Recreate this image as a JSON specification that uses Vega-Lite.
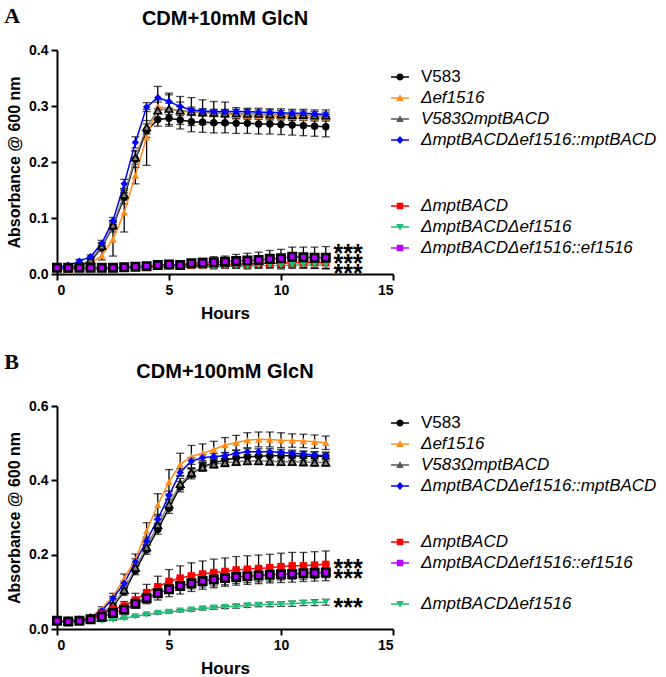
{
"$schema": "https://vega.github.io/schema/vega-lite/v6.json",
"padding": {"left": 4, "top": 4, "right": 0, "bottom": 0},
"spacing": 29,
"config": {
 "font": "Liberation Sans",
 "view": {"stroke": null},
 "axis": {"domainColor": "black", "domainWidth": 2, "tickColor": "black", "tickWidth": 2, "tickSize": 6, "labelColor": "black", "labelFontSize": 14, "labelFontWeight": "bold", "titleColor": "black", "titleFontWeight": "bold", "titleFontSize": 16, "grid": false, "labelFont": "Liberation Sans", "titleFont": "Liberation Sans"},
 "title": {"fontSize": 20, "fontWeight": "bold", "color": "black", "font": "Liberation Sans"},
 "legend": {"title": null, "orient": "none", "labelFont": "Liberation Sans", "labelFontSize": 17, "labelColor": "black", "labelLimit": 400, "labelOffset": 12, "rowPadding": 4, "padding": 0, "symbolSize": 324, "symbolStrokeWidth": 0, "symbolOpacity": 1, "labelFontStyle": {"expr": "datum.label == 'V583' ? 'normal' : 'italic'"}}
},
"datasets": {
"a": [
{"s":"V583","t":0,"y":0.012,"e":0.002},{"s":"V583","t":0.5,"y":0.013,"e":0.002},{"s":"V583","t":1,"y":0.015,"e":0.002},{"s":"V583","t":1.5,"y":0.022,"e":0.004},{"s":"V583","t":2,"y":0.048,"e":0.006},{"s":"V583","t":2.5,"y":0.085,"e":0.01},{"s":"V583","t":3,"y":0.137,"e":0.012},{"s":"V583","t":3.5,"y":0.205,"e":0.015},{"s":"V583","t":4,"y":0.256,"e":0.012},{"s":"V583","t":4.5,"y":0.276,"e":0.012},{"s":"V583","t":5,"y":0.278,"e":0.014},{"s":"V583","t":5.5,"y":0.275,"e":0.016},{"s":"V583","t":6,"y":0.272,"e":0.018},{"s":"V583","t":6.5,"y":0.271,"e":0.018},{"s":"V583","t":7,"y":0.27,"e":0.018},{"s":"V583","t":7.5,"y":0.27,"e":0.018},{"s":"V583","t":8,"y":0.269,"e":0.018},{"s":"V583","t":8.5,"y":0.269,"e":0.018},{"s":"V583","t":9,"y":0.268,"e":0.018},{"s":"V583","t":9.5,"y":0.268,"e":0.018},{"s":"V583","t":10,"y":0.267,"e":0.018},{"s":"V583","t":10.5,"y":0.266,"e":0.018},{"s":"V583","t":11,"y":0.265,"e":0.018},{"s":"V583","t":11.5,"y":0.264,"e":0.018},{"s":"V583","t":12,"y":0.263,"e":0.018},
{"s":"Δef1516","t":0,"y":0.01,"e":0.002},{"s":"Δef1516","t":0.5,"y":0.006,"e":0.003},{"s":"Δef1516","t":1,"y":0.012,"e":0.003},{"s":"Δef1516","t":1.5,"y":0.018,"e":0.004},{"s":"Δef1516","t":2,"y":0.033,"e":0.008},{"s":"Δef1516","t":2.5,"y":0.062,"e":0.03},{"s":"Δef1516","t":3,"y":0.11,"e":0.035},{"s":"Δef1516","t":3.5,"y":0.176,"e":0.015},{"s":"Δef1516","t":4,"y":0.244,"e":0.05},{"s":"Δef1516","t":4.5,"y":0.299,"e":0.012},{"s":"Δef1516","t":5,"y":0.295,"e":0.01},{"s":"Δef1516","t":5.5,"y":0.291,"e":0.008},{"s":"Δef1516","t":6,"y":0.289,"e":0.006},{"s":"Δef1516","t":6.5,"y":0.288,"e":0.006},{"s":"Δef1516","t":7,"y":0.287,"e":0.006},{"s":"Δef1516","t":7.5,"y":0.286,"e":0.006},{"s":"Δef1516","t":8,"y":0.284,"e":0.006},{"s":"Δef1516","t":8.5,"y":0.283,"e":0.005},{"s":"Δef1516","t":9,"y":0.282,"e":0.005},{"s":"Δef1516","t":9.5,"y":0.282,"e":0.005},{"s":"Δef1516","t":10,"y":0.281,"e":0.005},{"s":"Δef1516","t":10.5,"y":0.281,"e":0.005},{"s":"Δef1516","t":11,"y":0.28,"e":0.005},{"s":"Δef1516","t":11.5,"y":0.28,"e":0.005},{"s":"Δef1516","t":12,"y":0.28,"e":0.005},
{"s":"V583ΩmptBACD","t":0,"y":0.012,"e":0.002},{"s":"V583ΩmptBACD","t":0.5,"y":0.014,"e":0.002},{"s":"V583ΩmptBACD","t":1,"y":0.016,"e":0.003},{"s":"V583ΩmptBACD","t":1.5,"y":0.025,"e":0.004},{"s":"V583ΩmptBACD","t":2,"y":0.05,"e":0.006},{"s":"V583ΩmptBACD","t":2.5,"y":0.087,"e":0.008},{"s":"V583ΩmptBACD","t":3,"y":0.142,"e":0.01},{"s":"V583ΩmptBACD","t":3.5,"y":0.208,"e":0.012},{"s":"V583ΩmptBACD","t":4,"y":0.262,"e":0.012},{"s":"V583ΩmptBACD","t":4.5,"y":0.292,"e":0.015},{"s":"V583ΩmptBACD","t":5,"y":0.295,"e":0.028},{"s":"V583ΩmptBACD","t":5.5,"y":0.292,"e":0.025},{"s":"V583ΩmptBACD","t":6,"y":0.29,"e":0.025},{"s":"V583ΩmptBACD","t":6.5,"y":0.289,"e":0.022},{"s":"V583ΩmptBACD","t":7,"y":0.288,"e":0.02},{"s":"V583ΩmptBACD","t":7.5,"y":0.287,"e":0.02},{"s":"V583ΩmptBACD","t":8,"y":0.287,"e":0.01},{"s":"V583ΩmptBACD","t":8.5,"y":0.286,"e":0.01},{"s":"V583ΩmptBACD","t":9,"y":0.286,"e":0.01},{"s":"V583ΩmptBACD","t":9.5,"y":0.285,"e":0.01},{"s":"V583ΩmptBACD","t":10,"y":0.285,"e":0.01},{"s":"V583ΩmptBACD","t":10.5,"y":0.284,"e":0.01},{"s":"V583ΩmptBACD","t":11,"y":0.284,"e":0.01},{"s":"V583ΩmptBACD","t":11.5,"y":0.283,"e":0.01},{"s":"V583ΩmptBACD","t":12,"y":0.283,"e":0.01},
{"s":"ΔmptBACDΔef1516::mptBACD","t":0,"y":0.013,"e":0.002},{"s":"ΔmptBACDΔef1516::mptBACD","t":0.5,"y":0.015,"e":0.002},{"s":"ΔmptBACDΔef1516::mptBACD","t":1,"y":0.023,"e":0.003},{"s":"ΔmptBACDΔef1516::mptBACD","t":1.5,"y":0.031,"e":0.003},{"s":"ΔmptBACDΔef1516::mptBACD","t":2,"y":0.055,"e":0.005},{"s":"ΔmptBACDΔef1516::mptBACD","t":2.5,"y":0.095,"e":0.006},{"s":"ΔmptBACDΔef1516::mptBACD","t":3,"y":0.161,"e":0.008},{"s":"ΔmptBACDΔef1516::mptBACD","t":3.5,"y":0.235,"e":0.01},{"s":"ΔmptBACDΔef1516::mptBACD","t":4,"y":0.298,"e":0.008},{"s":"ΔmptBACDΔef1516::mptBACD","t":4.5,"y":0.315,"e":0.02},{"s":"ΔmptBACDΔef1516::mptBACD","t":5,"y":0.308,"e":0.012},{"s":"ΔmptBACDΔef1516::mptBACD","t":5.5,"y":0.299,"e":0.008},{"s":"ΔmptBACDΔef1516::mptBACD","t":6,"y":0.293,"e":0.005},{"s":"ΔmptBACDΔef1516::mptBACD","t":6.5,"y":0.291,"e":0.004},{"s":"ΔmptBACDΔef1516::mptBACD","t":7,"y":0.29,"e":0.004},{"s":"ΔmptBACDΔef1516::mptBACD","t":7.5,"y":0.29,"e":0.004},{"s":"ΔmptBACDΔef1516::mptBACD","t":8,"y":0.29,"e":0.004},{"s":"ΔmptBACDΔef1516::mptBACD","t":8.5,"y":0.29,"e":0.004},{"s":"ΔmptBACDΔef1516::mptBACD","t":9,"y":0.289,"e":0.004},{"s":"ΔmptBACDΔef1516::mptBACD","t":9.5,"y":0.289,"e":0.004},{"s":"ΔmptBACDΔef1516::mptBACD","t":10,"y":0.288,"e":0.004},{"s":"ΔmptBACDΔef1516::mptBACD","t":10.5,"y":0.287,"e":0.004},{"s":"ΔmptBACDΔef1516::mptBACD","t":11,"y":0.287,"e":0.004},{"s":"ΔmptBACDΔef1516::mptBACD","t":11.5,"y":0.286,"e":0.004},{"s":"ΔmptBACDΔef1516::mptBACD","t":12,"y":0.285,"e":0.004},
{"s":"ΔmptBACD","t":0,"y":0.01,"e":0.001},{"s":"ΔmptBACD","t":0.5,"y":0.01,"e":0.001},{"s":"ΔmptBACD","t":1,"y":0.01,"e":0.001},{"s":"ΔmptBACD","t":1.5,"y":0.01,"e":0.001},{"s":"ΔmptBACD","t":2,"y":0.01,"e":0.001},{"s":"ΔmptBACD","t":2.5,"y":0.01,"e":0.001},{"s":"ΔmptBACD","t":3,"y":0.011,"e":0.002},{"s":"ΔmptBACD","t":3.5,"y":0.012,"e":0.002},{"s":"ΔmptBACD","t":4,"y":0.013,"e":0.002},{"s":"ΔmptBACD","t":4.5,"y":0.014,"e":0.003},{"s":"ΔmptBACD","t":5,"y":0.015,"e":0.003},{"s":"ΔmptBACD","t":5.5,"y":0.015,"e":0.003},{"s":"ΔmptBACD","t":6,"y":0.016,"e":0.004},{"s":"ΔmptBACD","t":6.5,"y":0.016,"e":0.004},{"s":"ΔmptBACD","t":7,"y":0.017,"e":0.005},{"s":"ΔmptBACD","t":7.5,"y":0.017,"e":0.005},{"s":"ΔmptBACD","t":8,"y":0.018,"e":0.006},{"s":"ΔmptBACD","t":8.5,"y":0.018,"e":0.006},{"s":"ΔmptBACD","t":9,"y":0.019,"e":0.007},{"s":"ΔmptBACD","t":9.5,"y":0.019,"e":0.007},{"s":"ΔmptBACD","t":10,"y":0.019,"e":0.008},{"s":"ΔmptBACD","t":10.5,"y":0.02,"e":0.008},{"s":"ΔmptBACD","t":11,"y":0.02,"e":0.009},{"s":"ΔmptBACD","t":11.5,"y":0.02,"e":0.009},{"s":"ΔmptBACD","t":12,"y":0.02,"e":0.01},
{"s":"ΔmptBACDΔef1516","t":0,"y":0.01,"e":0.001},{"s":"ΔmptBACDΔef1516","t":0.5,"y":0.009,"e":0.001},{"s":"ΔmptBACDΔef1516","t":1,"y":0.009,"e":0.001},{"s":"ΔmptBACDΔef1516","t":1.5,"y":0.009,"e":0.001},{"s":"ΔmptBACDΔef1516","t":2,"y":0.009,"e":0.001},{"s":"ΔmptBACDΔef1516","t":2.5,"y":0.01,"e":0.001},{"s":"ΔmptBACDΔef1516","t":3,"y":0.01,"e":0.001},{"s":"ΔmptBACDΔef1516","t":3.5,"y":0.011,"e":0.002},{"s":"ΔmptBACDΔef1516","t":4,"y":0.011,"e":0.002},{"s":"ΔmptBACDΔef1516","t":4.5,"y":0.012,"e":0.002},{"s":"ΔmptBACDΔef1516","t":5,"y":0.012,"e":0.002},{"s":"ΔmptBACDΔef1516","t":5.5,"y":0.012,"e":0.003},{"s":"ΔmptBACDΔef1516","t":6,"y":0.013,"e":0.003},{"s":"ΔmptBACDΔef1516","t":6.5,"y":0.013,"e":0.003},{"s":"ΔmptBACDΔef1516","t":7,"y":0.013,"e":0.004},{"s":"ΔmptBACDΔef1516","t":7.5,"y":0.014,"e":0.004},{"s":"ΔmptBACDΔef1516","t":8,"y":0.014,"e":0.004},{"s":"ΔmptBACDΔef1516","t":8.5,"y":0.014,"e":0.005},{"s":"ΔmptBACDΔef1516","t":9,"y":0.015,"e":0.005},{"s":"ΔmptBACDΔef1516","t":9.5,"y":0.015,"e":0.005},{"s":"ΔmptBACDΔef1516","t":10,"y":0.015,"e":0.006},{"s":"ΔmptBACDΔef1516","t":10.5,"y":0.016,"e":0.006},{"s":"ΔmptBACDΔef1516","t":11,"y":0.016,"e":0.006},{"s":"ΔmptBACDΔef1516","t":11.5,"y":0.016,"e":0.006},{"s":"ΔmptBACDΔef1516","t":12,"y":0.016,"e":0.006},
{"s":"ΔmptBACDΔef1516::ef1516","t":0,"y":0.011,"e":0.001},{"s":"ΔmptBACDΔef1516::ef1516","t":0.5,"y":0.011,"e":0.001},{"s":"ΔmptBACDΔef1516::ef1516","t":1,"y":0.011,"e":0.001},{"s":"ΔmptBACDΔef1516::ef1516","t":1.5,"y":0.011,"e":0.001},{"s":"ΔmptBACDΔef1516::ef1516","t":2,"y":0.011,"e":0.001},{"s":"ΔmptBACDΔef1516::ef1516","t":2.5,"y":0.011,"e":0.002},{"s":"ΔmptBACDΔef1516::ef1516","t":3,"y":0.012,"e":0.002},{"s":"ΔmptBACDΔef1516::ef1516","t":3.5,"y":0.013,"e":0.002},{"s":"ΔmptBACDΔef1516::ef1516","t":4,"y":0.014,"e":0.003},{"s":"ΔmptBACDΔef1516::ef1516","t":4.5,"y":0.016,"e":0.003},{"s":"ΔmptBACDΔef1516::ef1516","t":5,"y":0.017,"e":0.004},{"s":"ΔmptBACDΔef1516::ef1516","t":5.5,"y":0.016,"e":0.004},{"s":"ΔmptBACDΔef1516::ef1516","t":6,"y":0.019,"e":0.006},{"s":"ΔmptBACDΔef1516::ef1516","t":6.5,"y":0.02,"e":0.008},{"s":"ΔmptBACDΔef1516::ef1516","t":7,"y":0.021,"e":0.01},{"s":"ΔmptBACDΔef1516::ef1516","t":7.5,"y":0.022,"e":0.01},{"s":"ΔmptBACDΔef1516::ef1516","t":8,"y":0.023,"e":0.012},{"s":"ΔmptBACDΔef1516::ef1516","t":8.5,"y":0.024,"e":0.013},{"s":"ΔmptBACDΔef1516::ef1516","t":9,"y":0.025,"e":0.014},{"s":"ΔmptBACDΔef1516::ef1516","t":9.5,"y":0.027,"e":0.015},{"s":"ΔmptBACDΔef1516::ef1516","t":10,"y":0.028,"e":0.016},{"s":"ΔmptBACDΔef1516::ef1516","t":10.5,"y":0.031,"e":0.017},{"s":"ΔmptBACDΔef1516::ef1516","t":11,"y":0.03,"e":0.018},{"s":"ΔmptBACDΔef1516::ef1516","t":11.5,"y":0.029,"e":0.019},{"s":"ΔmptBACDΔef1516::ef1516","t":12,"y":0.029,"e":0.02}
],
"b": [
{"s":"V583","t":0,"y":0.022,"e":0.003},{"s":"V583","t":0.5,"y":0.022,"e":0.003},{"s":"V583","t":1,"y":0.024,"e":0.003},{"s":"V583","t":1.5,"y":0.03,"e":0.004},{"s":"V583","t":2,"y":0.04,"e":0.005},{"s":"V583","t":2.5,"y":0.062,"e":0.007},{"s":"V583","t":3,"y":0.1,"e":0.009},{"s":"V583","t":3.5,"y":0.157,"e":0.011},{"s":"V583","t":4,"y":0.213,"e":0.012},{"s":"V583","t":4.5,"y":0.268,"e":0.013},{"s":"V583","t":5,"y":0.325,"e":0.014},{"s":"V583","t":5.5,"y":0.383,"e":0.014},{"s":"V583","t":6,"y":0.417,"e":0.013},{"s":"V583","t":6.5,"y":0.437,"e":0.012},{"s":"V583","t":7,"y":0.447,"e":0.012},{"s":"V583","t":7.5,"y":0.455,"e":0.012},{"s":"V583","t":8,"y":0.46,"e":0.012},{"s":"V583","t":8.5,"y":0.463,"e":0.012},{"s":"V583","t":9,"y":0.465,"e":0.012},{"s":"V583","t":9.5,"y":0.466,"e":0.012},{"s":"V583","t":10,"y":0.466,"e":0.012},{"s":"V583","t":10.5,"y":0.466,"e":0.012},{"s":"V583","t":11,"y":0.465,"e":0.012},{"s":"V583","t":11.5,"y":0.465,"e":0.012},{"s":"V583","t":12,"y":0.464,"e":0.012},
{"s":"Δef1516","t":0,"y":0.022,"e":0.002},{"s":"Δef1516","t":0.5,"y":0.022,"e":0.002},{"s":"Δef1516","t":1,"y":0.025,"e":0.003},{"s":"Δef1516","t":1.5,"y":0.033,"e":0.003},{"s":"Δef1516","t":2,"y":0.055,"e":0.005},{"s":"Δef1516","t":2.5,"y":0.088,"e":0.008},{"s":"Δef1516","t":3,"y":0.136,"e":0.012},{"s":"Δef1516","t":3.5,"y":0.187,"e":0.015},{"s":"Δef1516","t":4,"y":0.264,"e":0.022},{"s":"Δef1516","t":4.5,"y":0.334,"e":0.03},{"s":"Δef1516","t":5,"y":0.396,"e":0.033},{"s":"Δef1516","t":5.5,"y":0.443,"e":0.03},{"s":"Δef1516","t":6,"y":0.464,"e":0.03},{"s":"Δef1516","t":6.5,"y":0.473,"e":0.025},{"s":"Δef1516","t":7,"y":0.483,"e":0.022},{"s":"Δef1516","t":7.5,"y":0.495,"e":0.02},{"s":"Δef1516","t":8,"y":0.501,"e":0.02},{"s":"Δef1516","t":8.5,"y":0.508,"e":0.02},{"s":"Δef1516","t":9,"y":0.51,"e":0.02},{"s":"Δef1516","t":9.5,"y":0.51,"e":0.02},{"s":"Δef1516","t":10,"y":0.508,"e":0.02},{"s":"Δef1516","t":10.5,"y":0.507,"e":0.018},{"s":"Δef1516","t":11,"y":0.506,"e":0.018},{"s":"Δef1516","t":11.5,"y":0.504,"e":0.018},{"s":"Δef1516","t":12,"y":0.501,"e":0.018},
{"s":"V583ΩmptBACD","t":0,"y":0.022,"e":0.002},{"s":"V583ΩmptBACD","t":0.5,"y":0.022,"e":0.002},{"s":"V583ΩmptBACD","t":1,"y":0.024,"e":0.003},{"s":"V583ΩmptBACD","t":1.5,"y":0.03,"e":0.003},{"s":"V583ΩmptBACD","t":2,"y":0.042,"e":0.004},{"s":"V583ΩmptBACD","t":2.5,"y":0.065,"e":0.006},{"s":"V583ΩmptBACD","t":3,"y":0.105,"e":0.008},{"s":"V583ΩmptBACD","t":3.5,"y":0.165,"e":0.01},{"s":"V583ΩmptBACD","t":4,"y":0.22,"e":0.012},{"s":"V583ΩmptBACD","t":4.5,"y":0.28,"e":0.014},{"s":"V583ΩmptBACD","t":5,"y":0.335,"e":0.015},{"s":"V583ΩmptBACD","t":5.5,"y":0.39,"e":0.015},{"s":"V583ΩmptBACD","t":6,"y":0.42,"e":0.012},{"s":"V583ΩmptBACD","t":6.5,"y":0.435,"e":0.01},{"s":"V583ΩmptBACD","t":7,"y":0.443,"e":0.01},{"s":"V583ΩmptBACD","t":7.5,"y":0.447,"e":0.01},{"s":"V583ΩmptBACD","t":8,"y":0.45,"e":0.01},{"s":"V583ΩmptBACD","t":8.5,"y":0.452,"e":0.01},{"s":"V583ΩmptBACD","t":9,"y":0.452,"e":0.01},{"s":"V583ΩmptBACD","t":9.5,"y":0.451,"e":0.01},{"s":"V583ΩmptBACD","t":10,"y":0.45,"e":0.01},{"s":"V583ΩmptBACD","t":10.5,"y":0.45,"e":0.01},{"s":"V583ΩmptBACD","t":11,"y":0.449,"e":0.01},{"s":"V583ΩmptBACD","t":11.5,"y":0.448,"e":0.01},{"s":"V583ΩmptBACD","t":12,"y":0.448,"e":0.01},
{"s":"ΔmptBACDΔef1516::mptBACD","t":0,"y":0.02,"e":0.002},{"s":"ΔmptBACDΔef1516::mptBACD","t":0.5,"y":0.018,"e":0.002},{"s":"ΔmptBACDΔef1516::mptBACD","t":1,"y":0.02,"e":0.002},{"s":"ΔmptBACDΔef1516::mptBACD","t":1.5,"y":0.03,"e":0.003},{"s":"ΔmptBACDΔef1516::mptBACD","t":2,"y":0.049,"e":0.004},{"s":"ΔmptBACDΔef1516::mptBACD","t":2.5,"y":0.083,"e":0.005},{"s":"ΔmptBACDΔef1516::mptBACD","t":3,"y":0.123,"e":0.006},{"s":"ΔmptBACDΔef1516::mptBACD","t":3.5,"y":0.181,"e":0.008},{"s":"ΔmptBACDΔef1516::mptBACD","t":4,"y":0.237,"e":0.01},{"s":"ΔmptBACDΔef1516::mptBACD","t":4.5,"y":0.296,"e":0.012},{"s":"ΔmptBACDΔef1516::mptBACD","t":5,"y":0.359,"e":0.012},{"s":"ΔmptBACDΔef1516::mptBACD","t":5.5,"y":0.421,"e":0.01},{"s":"ΔmptBACDΔef1516::mptBACD","t":6,"y":0.452,"e":0.009},{"s":"ΔmptBACDΔef1516::mptBACD","t":6.5,"y":0.461,"e":0.008},{"s":"ΔmptBACDΔef1516::mptBACD","t":7,"y":0.464,"e":0.008},{"s":"ΔmptBACDΔef1516::mptBACD","t":7.5,"y":0.466,"e":0.008},{"s":"ΔmptBACDΔef1516::mptBACD","t":8,"y":0.473,"e":0.008},{"s":"ΔmptBACDΔef1516::mptBACD","t":8.5,"y":0.477,"e":0.008},{"s":"ΔmptBACDΔef1516::mptBACD","t":9,"y":0.477,"e":0.008},{"s":"ΔmptBACDΔef1516::mptBACD","t":9.5,"y":0.477,"e":0.008},{"s":"ΔmptBACDΔef1516::mptBACD","t":10,"y":0.475,"e":0.008},{"s":"ΔmptBACDΔef1516::mptBACD","t":10.5,"y":0.473,"e":0.008},{"s":"ΔmptBACDΔef1516::mptBACD","t":11,"y":0.471,"e":0.008},{"s":"ΔmptBACDΔef1516::mptBACD","t":11.5,"y":0.468,"e":0.008},{"s":"ΔmptBACDΔef1516::mptBACD","t":12,"y":0.466,"e":0.008},
{"s":"ΔmptBACD","t":0,"y":0.022,"e":0.002},{"s":"ΔmptBACD","t":0.5,"y":0.022,"e":0.002},{"s":"ΔmptBACD","t":1,"y":0.024,"e":0.003},{"s":"ΔmptBACD","t":1.5,"y":0.028,"e":0.003},{"s":"ΔmptBACD","t":2,"y":0.04,"e":0.005},{"s":"ΔmptBACD","t":2.5,"y":0.053,"e":0.008},{"s":"ΔmptBACD","t":3,"y":0.062,"e":0.012},{"s":"ΔmptBACD","t":3.5,"y":0.078,"e":0.018},{"s":"ΔmptBACD","t":4,"y":0.098,"e":0.022},{"s":"ΔmptBACD","t":4.5,"y":0.114,"e":0.028},{"s":"ΔmptBACD","t":5,"y":0.128,"e":0.032},{"s":"ΔmptBACD","t":5.5,"y":0.137,"e":0.033},{"s":"ΔmptBACD","t":6,"y":0.143,"e":0.035},{"s":"ΔmptBACD","t":6.5,"y":0.148,"e":0.035},{"s":"ΔmptBACD","t":7,"y":0.152,"e":0.036},{"s":"ΔmptBACD","t":7.5,"y":0.155,"e":0.036},{"s":"ΔmptBACD","t":8,"y":0.159,"e":0.036},{"s":"ΔmptBACD","t":8.5,"y":0.161,"e":0.036},{"s":"ΔmptBACD","t":9,"y":0.163,"e":0.036},{"s":"ΔmptBACD","t":9.5,"y":0.165,"e":0.036},{"s":"ΔmptBACD","t":10,"y":0.168,"e":0.036},{"s":"ΔmptBACD","t":10.5,"y":0.17,"e":0.036},{"s":"ΔmptBACD","t":11,"y":0.17,"e":0.036},{"s":"ΔmptBACD","t":11.5,"y":0.172,"e":0.036},{"s":"ΔmptBACD","t":12,"y":0.174,"e":0.036},
{"s":"ΔmptBACDΔef1516","t":0,"y":0.02,"e":0.001},{"s":"ΔmptBACDΔef1516","t":0.5,"y":0.018,"e":0.001},{"s":"ΔmptBACDΔef1516","t":1,"y":0.019,"e":0.001},{"s":"ΔmptBACDΔef1516","t":1.5,"y":0.02,"e":0.001},{"s":"ΔmptBACDΔef1516","t":2,"y":0.022,"e":0.002},{"s":"ΔmptBACDΔef1516","t":2.5,"y":0.025,"e":0.002},{"s":"ΔmptBACDΔef1516","t":3,"y":0.029,"e":0.002},{"s":"ΔmptBACDΔef1516","t":3.5,"y":0.034,"e":0.002},{"s":"ΔmptBACDΔef1516","t":4,"y":0.039,"e":0.003},{"s":"ΔmptBACDΔef1516","t":4.5,"y":0.043,"e":0.003},{"s":"ΔmptBACDΔef1516","t":5,"y":0.046,"e":0.003},{"s":"ΔmptBACDΔef1516","t":5.5,"y":0.049,"e":0.003},{"s":"ΔmptBACDΔef1516","t":6,"y":0.052,"e":0.004},{"s":"ΔmptBACDΔef1516","t":6.5,"y":0.055,"e":0.004},{"s":"ΔmptBACDΔef1516","t":7,"y":0.057,"e":0.004},{"s":"ΔmptBACDΔef1516","t":7.5,"y":0.059,"e":0.004},{"s":"ΔmptBACDΔef1516","t":8,"y":0.061,"e":0.005},{"s":"ΔmptBACDΔef1516","t":8.5,"y":0.063,"e":0.005},{"s":"ΔmptBACDΔef1516","t":9,"y":0.065,"e":0.005},{"s":"ΔmptBACDΔef1516","t":9.5,"y":0.066,"e":0.006},{"s":"ΔmptBACDΔef1516","t":10,"y":0.067,"e":0.006},{"s":"ΔmptBACDΔef1516","t":10.5,"y":0.068,"e":0.007},{"s":"ΔmptBACDΔef1516","t":11,"y":0.07,"e":0.007},{"s":"ΔmptBACDΔef1516","t":11.5,"y":0.071,"e":0.008},{"s":"ΔmptBACDΔef1516","t":12,"y":0.072,"e":0.008},
{"s":"ΔmptBACDΔef1516::ef1516","t":0,"y":0.022,"e":0.002},{"s":"ΔmptBACDΔef1516::ef1516","t":0.5,"y":0.02,"e":0.002},{"s":"ΔmptBACDΔef1516::ef1516","t":1,"y":0.022,"e":0.003},{"s":"ΔmptBACDΔef1516::ef1516","t":1.5,"y":0.026,"e":0.003},{"s":"ΔmptBACDΔef1516::ef1516","t":2,"y":0.033,"e":0.004},{"s":"ΔmptBACDΔef1516::ef1516","t":2.5,"y":0.043,"e":0.006},{"s":"ΔmptBACDΔef1516::ef1516","t":3,"y":0.052,"e":0.008},{"s":"ΔmptBACDΔef1516::ef1516","t":3.5,"y":0.068,"e":0.012},{"s":"ΔmptBACDΔef1516::ef1516","t":4,"y":0.083,"e":0.015},{"s":"ΔmptBACDΔef1516::ef1516","t":4.5,"y":0.096,"e":0.018},{"s":"ΔmptBACDΔef1516::ef1516","t":5,"y":0.107,"e":0.02},{"s":"ΔmptBACDΔef1516::ef1516","t":5.5,"y":0.116,"e":0.022},{"s":"ΔmptBACDΔef1516::ef1516","t":6,"y":0.123,"e":0.022},{"s":"ΔmptBACDΔef1516::ef1516","t":6.5,"y":0.129,"e":0.022},{"s":"ΔmptBACDΔef1516::ef1516","t":7,"y":0.133,"e":0.022},{"s":"ΔmptBACDΔef1516::ef1516","t":7.5,"y":0.137,"e":0.022},{"s":"ΔmptBACDΔef1516::ef1516","t":8,"y":0.14,"e":0.022},{"s":"ΔmptBACDΔef1516::ef1516","t":8.5,"y":0.142,"e":0.022},{"s":"ΔmptBACDΔef1516::ef1516","t":9,"y":0.144,"e":0.022},{"s":"ΔmptBACDΔef1516::ef1516","t":9.5,"y":0.146,"e":0.022},{"s":"ΔmptBACDΔef1516::ef1516","t":10,"y":0.147,"e":0.022},{"s":"ΔmptBACDΔef1516::ef1516","t":10.5,"y":0.148,"e":0.022},{"s":"ΔmptBACDΔef1516::ef1516","t":11,"y":0.15,"e":0.022},{"s":"ΔmptBACDΔef1516::ef1516","t":11.5,"y":0.151,"e":0.022},{"s":"ΔmptBACDΔef1516::ef1516","t":12,"y":0.152,"e":0.022}
]
},
"vconcat": [
{
 "width": 336, "height": 224,
 "title": {"text": "CDM+10mM GlcN", "anchor": "middle", "offset": -24},
 "data": {"name": "a"},
 "encoding": {
  "x": {"field": "t", "type": "quantitative", "scale": {"domain": [0, 15], "nice": false}, "axis": {"title": "Hours", "values": [0, 5, 10, 15], "titleFontSize": 17, "labelPadding": 3, "titlePadding": 8}},
  "y": {"field": "y", "type": "quantitative", "scale": {"domain": [0, 0.4], "nice": false}, "axis": {"title": "Absorbance @ 600 nm", "values": [0, 0.1, 0.2, 0.3, 0.4], "format": ".1f", "titlePadding": 6, "labelPadding": 3}}
 },
 "layer": [
  {"mark": {"type": "errorbar", "ticks": true, "color": "black", "thickness": 1.3, "size": 8}, "encoding": {"yError": {"field": "e"}}},
  {"transform": [{"filter": {"field": "s", "oneOf": ["V583", "Δef1516", "V583ΩmptBACD", "ΔmptBACDΔef1516::mptBACD"]}}],
   "encoding": {
    "color": {"field": "s", "type": "nominal", "scale": {"domain": ["V583", "Δef1516", "V583ΩmptBACD", "ΔmptBACDΔef1516::mptBACD"], "range": ["#000000", "#FF8C1A", "#808080", "#0000FF"]}, "legend": null},
    "shape": {"field": "s", "type": "nominal", "scale": {"domain": ["V583", "Δef1516", "V583ΩmptBACD", "ΔmptBACDΔef1516::mptBACD"], "range": ["circle", "triangle-up", "triangle-up", "diamond"]}, "legend": null}
   },
   "layer": [
    {"mark": {"type": "line", "strokeWidth": 1.5}, "encoding": {"shape": null}},
    {"mark": {"type": "point", "filled": true, "size": 55, "opacity": 1, "stroke": "black"},
     "encoding": {"strokeWidth": {"condition": {"test": "datum.s == 'V583ΩmptBACD'", "value": 1.6}, "value": 0}}}
   ]
  },
  {"transform": [{"filter": {"field": "s", "oneOf": ["ΔmptBACD", "ΔmptBACDΔef1516", "ΔmptBACDΔef1516::ef1516"]}}],
   "encoding": {
    "color": {"field": "s", "type": "nominal", "scale": {"domain": ["ΔmptBACD", "ΔmptBACDΔef1516", "ΔmptBACDΔef1516::ef1516"], "range": ["#FF0000", "#1FBF76", "#B300FF"]}, "legend": null},
    "shape": {"field": "s", "type": "nominal", "scale": {"domain": ["ΔmptBACD", "ΔmptBACDΔef1516", "ΔmptBACDΔef1516::ef1516"], "range": ["square", "triangle-down", "square"]}, "legend": null}
   },
   "layer": [
    {"mark": {"type": "line", "strokeWidth": 1.5}, "encoding": {"shape": null}},
    {"mark": {"type": "point", "filled": true, "size": 55, "opacity": 1, "stroke": "black"},
     "encoding": {"strokeWidth": {"condition": {"test": "datum.s == 'ΔmptBACDΔef1516::ef1516'", "value": 2.6}, "value": 0}}}
   ]
  },
  {"transform": [{"filter": "false"}],
   "mark": {"type": "point", "filled": true, "opacity": 1},
   "encoding": {
    "color": {"field": "s", "type": "nominal", "scale": {"domain": ["V583", "Δef1516", "V583ΩmptBACD", "ΔmptBACDΔef1516::mptBACD"], "range": ["#000000", "#FF8C1A", "#555555", "#0000FF"]}, "legend": {"legendX": 334, "legendY": 18}},
    "shape": {"field": "s", "type": "nominal", "scale": {"domain": ["V583", "Δef1516", "V583ΩmptBACD", "ΔmptBACDΔef1516::mptBACD"], "range": ["M-1,-0.07H1V0.07H-1ZM0.4,0A0.4,0.4,0,1,1,-0.4,0A0.4,0.4,0,1,1,0.4,0Z", "M-1,-0.07H1V0.07H-1ZM0,-0.42L0.42,0.32H-0.42Z", "M-1,-0.07H1V0.07H-1ZM0,-0.42L0.42,0.32H-0.42Z", "M-1,-0.07H1V0.07H-1ZM0,-0.45L0.4,0L0,0.45L-0.4,0Z"]}, "legend": {"legendX": 334, "legendY": 18}}
   }
  },
  {"transform": [{"filter": "false"}],
   "mark": {"type": "point", "filled": true, "opacity": 1},
   "encoding": {
    "color": {"field": "s", "type": "nominal", "scale": {"domain": ["ΔmptBACD", "ΔmptBACDΔef1516", "ΔmptBACDΔef1516::ef1516"], "range": ["#FF0000", "#1FBF76", "#B300FF"]}, "legend": {"legendX": 334, "legendY": 147}},
    "shape": {"field": "s", "type": "nominal", "scale": {"domain": ["ΔmptBACD", "ΔmptBACDΔef1516", "ΔmptBACDΔef1516::ef1516"], "range": ["M-1,-0.07H1V0.07H-1ZM-0.36,-0.36H0.36V0.36H-0.36Z", "M-1,-0.07H1V0.07H-1ZM0,0.42L-0.42,-0.32H0.42Z", "M-1,-0.07H1V0.07H-1ZM-0.36,-0.36H0.36V0.36H-0.36Z"]}, "legend": {"legendX": 334, "legendY": 147}}
   }
  },
  {"data": {"values": [{"t": 13, "y": 0.046, "m": "***"}, {"t": 13, "y": 0.029, "m": "***"}, {"t": 13, "y": 0.011, "m": "***"}]},
   "mark": {"type": "text", "fontSize": 25, "fontWeight": "bold", "color": "black", "baseline": "alphabetic", "dy": 14},
   "encoding": {"text": {"field": "m"}}},
  {"data": {"values": [{"t": -2.35, "y": 0.461, "m": "A"}]},
   "mark": {"type": "text", "font": "Liberation Serif", "fontSize": 22, "fontWeight": "bold", "color": "black", "align": "left", "baseline": "middle", "clip": false},
   "encoding": {"text": {"field": "m"}}}
 ],
 "resolve": {"scale": {"color": "independent", "shape": "independent"}}
},
{
 "width": 336, "height": 223,
 "title": {"text": "CDM+100mM GlcN", "anchor": "middle", "offset": -31},
 "data": {"name": "b"},
 "encoding": {
  "x": {"field": "t", "type": "quantitative", "scale": {"domain": [0, 15], "nice": false}, "axis": {"title": "Hours", "values": [0, 5, 10, 15], "titleFontSize": 17, "labelPadding": 3, "titlePadding": 8}},
  "y": {"field": "y", "type": "quantitative", "scale": {"domain": [0, 0.6], "nice": false}, "axis": {"title": "Absorbance @ 600 nm", "values": [0, 0.2, 0.4, 0.6], "format": ".1f", "titlePadding": 6, "labelPadding": 3}}
 },
 "layer": [
  {"mark": {"type": "errorbar", "ticks": true, "color": "black", "thickness": 1.3, "size": 8}, "encoding": {"yError": {"field": "e"}}},
  {"transform": [{"filter": {"field": "s", "oneOf": ["V583", "Δef1516", "V583ΩmptBACD", "ΔmptBACDΔef1516::mptBACD"]}}],
   "encoding": {
    "color": {"field": "s", "type": "nominal", "scale": {"domain": ["V583", "Δef1516", "V583ΩmptBACD", "ΔmptBACDΔef1516::mptBACD"], "range": ["#000000", "#FF8C1A", "#808080", "#0000FF"]}, "legend": null},
    "shape": {"field": "s", "type": "nominal", "scale": {"domain": ["V583", "Δef1516", "V583ΩmptBACD", "ΔmptBACDΔef1516::mptBACD"], "range": ["circle", "triangle-up", "triangle-up", "diamond"]}, "legend": null}
   },
   "layer": [
    {"mark": {"type": "line", "strokeWidth": 1.5}, "encoding": {"shape": null}},
    {"mark": {"type": "point", "filled": true, "size": 55, "opacity": 1, "stroke": "black"},
     "encoding": {"strokeWidth": {"condition": {"test": "datum.s == 'V583ΩmptBACD'", "value": 1.6}, "value": 0}}}
   ]
  },
  {"transform": [{"filter": {"field": "s", "oneOf": ["ΔmptBACD", "ΔmptBACDΔef1516::ef1516", "ΔmptBACDΔef1516"]}}],
   "encoding": {
    "color": {"field": "s", "type": "nominal", "scale": {"domain": ["ΔmptBACD", "ΔmptBACDΔef1516::ef1516", "ΔmptBACDΔef1516"], "range": ["#FF0000", "#B300FF", "#1FBF76"]}, "legend": null},
    "shape": {"field": "s", "type": "nominal", "scale": {"domain": ["ΔmptBACD", "ΔmptBACDΔef1516::ef1516", "ΔmptBACDΔef1516"], "range": ["square", "square", "triangle-down"]}, "legend": null}
   },
   "layer": [
    {"mark": {"type": "line", "strokeWidth": 1.5}, "encoding": {"shape": null}},
    {"mark": {"type": "point", "filled": true, "size": 55, "opacity": 1, "stroke": "black"},
     "encoding": {"strokeWidth": {"condition": {"test": "datum.s == 'ΔmptBACDΔef1516::ef1516'", "value": 2.6}, "value": 0}}}
   ]
  },
  {"transform": [{"filter": "false"}],
   "mark": {"type": "point", "filled": true, "opacity": 1},
   "encoding": {
    "color": {"field": "s", "type": "nominal", "scale": {"domain": ["V583", "Δef1516", "V583ΩmptBACD", "ΔmptBACDΔef1516::mptBACD"], "range": ["#000000", "#FF8C1A", "#555555", "#0000FF"]}, "legend": {"legendX": 334, "legendY": 8}},
    "shape": {"field": "s", "type": "nominal", "scale": {"domain": ["V583", "Δef1516", "V583ΩmptBACD", "ΔmptBACDΔef1516::mptBACD"], "range": ["M-1,-0.07H1V0.07H-1ZM0.4,0A0.4,0.4,0,1,1,-0.4,0A0.4,0.4,0,1,1,0.4,0Z", "M-1,-0.07H1V0.07H-1ZM0,-0.42L0.42,0.32H-0.42Z", "M-1,-0.07H1V0.07H-1ZM0,-0.42L0.42,0.32H-0.42Z", "M-1,-0.07H1V0.07H-1ZM0,-0.45L0.4,0L0,0.45L-0.4,0Z"]}, "legend": {"legendX": 334, "legendY": 8}}
   }
  },
  {"transform": [{"filter": "false"}],
   "mark": {"type": "point", "filled": true, "opacity": 1},
   "encoding": {
    "color": {"field": "s", "type": "nominal", "scale": {"domain": ["ΔmptBACD", "ΔmptBACDΔef1516::ef1516"], "range": ["#FF0000", "#B300FF"]}, "legend": {"legendX": 334, "legendY": 127}},
    "shape": {"field": "s", "type": "nominal", "scale": {"domain": ["ΔmptBACD", "ΔmptBACDΔef1516::ef1516"], "range": ["M-1,-0.07H1V0.07H-1ZM-0.36,-0.36H0.36V0.36H-0.36Z", "M-1,-0.07H1V0.07H-1ZM-0.36,-0.36H0.36V0.36H-0.36Z"]}, "legend": {"legendX": 334, "legendY": 127}}
   }
  },
  {"transform": [{"filter": "false"}],
   "mark": {"type": "point", "filled": true, "opacity": 1},
   "encoding": {
    "color": {"field": "s", "type": "nominal", "scale": {"domain": ["ΔmptBACDΔef1516"], "range": ["#1FBF76"]}, "legend": {"legendX": 334, "legendY": 189}},
    "shape": {"field": "s", "type": "nominal", "scale": {"domain": ["ΔmptBACDΔef1516"], "range": ["M-1,-0.07H1V0.07H-1ZM0,0.42L-0.42,-0.32H0.42Z"]}, "legend": {"legendX": 334, "legendY": 189}}
   }
  },
  {"data": {"values": [{"t": 13, "y": 0.178, "m": "***"}, {"t": 13, "y": 0.151, "m": "***"}, {"t": 13, "y": 0.073, "m": "***"}]},
   "mark": {"type": "text", "fontSize": 25, "fontWeight": "bold", "color": "black", "baseline": "alphabetic", "dy": 14},
   "encoding": {"text": {"field": "m"}}},
  {"data": {"values": [{"t": -2.35, "y": 0.719, "m": "B"}]},
   "mark": {"type": "text", "font": "Liberation Serif", "fontSize": 22, "fontWeight": "bold", "color": "black", "align": "left", "baseline": "middle", "clip": false},
   "encoding": {"text": {"field": "m"}}}
 ],
 "resolve": {"scale": {"color": "independent", "shape": "independent"}}
}
]
}
